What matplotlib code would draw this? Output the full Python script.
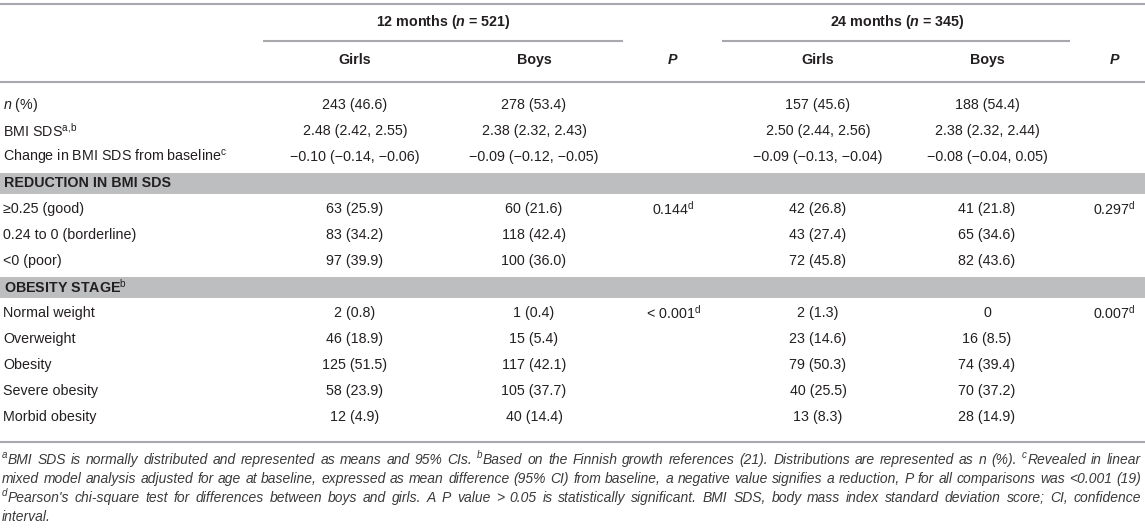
import matplotlib
matplotlib.use("Agg")
import matplotlib.pyplot as plt
from matplotlib.patches import Rectangle

plt.rcParams['font.family'] = ['Liberation Sans', 'DejaVu Sans']
plt.rcParams['mathtext.fontset'] = 'custom'
plt.rcParams['mathtext.rm'] = 'Liberation Sans'
plt.rcParams['mathtext.it'] = 'Liberation Sans:italic'
plt.rcParams['mathtext.bf'] = 'Liberation Sans:bold'
plt.rcParams['mathtext.bfit'] = 'Liberation Sans:italic:bold'

# ---------------- data ----------------
group_headers = [r"12 months ($\mathbfit{n}$ = 521)", r"24 months ($\mathbfit{n}$ = 345)"]
sub_headers = ["Girls", "Boys", "P", "Girls", "Boys", "P"]

labels = [r"$\mathit{n}$ (%)", "BMI SDS", "Change in BMI SDS from baseline",
          "REDUCTION IN BMI SDS", "≥0.25 (good)", "0.24 to 0 (borderline)", "<0 (poor)",
          "OBESITY STAGE", "Normal weight", "Overweight", "Obesity", "Severe obesity",
          "Morbid obesity"]
label_sup = ["", "a{,}b", "c", "", "", "", "", "b", "", "", "", "", ""]
is_section = [False, False, False, True, False, False, False, True,
              False, False, False, False, False]

girls_12 = ["243 (46.6)", "2.48 (2.42, 2.55)", "−0.10 (−0.14, −0.06)", "",
            "63 (25.9)", "83 (34.2)", "97 (39.9)", "",
            "2 (0.8)", "46 (18.9)", "125 (51.5)", "58 (23.9)", "12 (4.9)"]
boys_12 = ["278 (53.4)", "2.38 (2.32, 2.43)", "−0.09 (−0.12, −0.05)", "",
           "60 (21.6)", "118 (42.4)", "100 (36.0)", "",
           "1 (0.4)", "15 (5.4)", "117 (42.1)", "105 (37.7)", "40 (14.4)"]
p_12 = ["", "", "", "", "0.144", "", "", "", "< 0.001", "", "", "", ""]
girls_24 = ["157 (45.6)", "2.50 (2.44, 2.56)", "−0.09 (−0.13, −0.04)", "",
            "42 (26.8)", "43 (27.4)", "72 (45.8)", "",
            "2 (1.3)", "23 (14.6)", "79 (50.3)", "40 (25.5)", "13 (8.3)"]
boys_24 = ["188 (54.4)", "2.38 (2.32, 2.44)", "−0.08 (−0.04, 0.05)", "",
           "41 (21.8)", "65 (34.6)", "82 (43.6)", "",
           "0", "16 (8.5)", "74 (39.4)", "70 (37.2)", "28 (14.9)"]
p_24 = ["", "", "", "", "0.297", "", "", "", "0.007", "", "", "", ""]
p_sup = "d"

# footnote words; a leading "^x|" marks a superscript letter before the word
footnotes = [
    "^a|BMI SDS is normally distributed and represented as means and 95% CIs. ^b|Based on the Finnish growth references (21). Distributions are represented as n (%). ^c|Revealed in linear",
    "mixed model analysis adjusted for age at baseline, expressed as mean difference (95% CI) from baseline, a negative value signifies a reduction, P for all comparisons was <0.001 (19)",
    "^d|Pearson's chi-square test for differences between boys and girls. A P value > 0.05 is statistically significant. BMI SDS, body mass index standard deviation score; CI, confidence",
    "interval.",
]
footnote_justify = [True, True, True, False]

# ---------------- layout ----------------
W, H = 1145, 531
fig = plt.figure(figsize=(W / 100, H / 100), dpi=100)
ax = fig.add_axes([0, 0, 1, 1])
ax.set_xlim(0, W)
ax.set_ylim(H, 0)
ax.axis('off')

txt = '#231f20'
rule = '#a7a9ac'
band = '#bcbec0'
fn_col = '#3a3a3a'
fs = 10.3

col_x = [355, 534, 673, 818, 987, 1114]
group_x = [443, 897]
group_lines = [(263, 623), (722, 1070)]

y_top = 4
y_group = 22
y_gline = 41
y_sub = 60
y_rule2 = 82
y0 = 105
pitch = 26
y_bottom = 442
band_h = 21

for yy in (y_top, y_rule2, y_bottom):
    ax.plot([0, W], [yy, yy], color=rule, lw=1.5, solid_capstyle='butt')
for (a, b) in group_lines:
    ax.plot([a, b], [y_gline, y_gline], color=rule, lw=1.5, solid_capstyle='butt')

for gx, gh in zip(group_x, group_headers):
    ax.text(gx, y_group, gh, ha='center', va='center', fontsize=fs,
            fontweight='bold', color=txt)
for cx, sh in zip(col_x, sub_headers):
    ax.text(cx, y_sub, sh, ha='center', va='center', fontsize=fs,
            fontweight='bold', fontstyle='italic' if sh == "P" else 'normal', color=txt)

cols = [girls_12, boys_12, p_12, girls_24, boys_24, p_24]
for i, lab in enumerate(labels):
    y = y0 + i * pitch
    s = lab + (r"$^{\mathrm{%s}}$" % label_sup[i] if label_sup[i] else "")
    if is_section[i]:
        ax.add_patch(Rectangle((0, y - band_h / 2), W, band_h, color=band, lw=0))
        ax.text(4, y, s, ha='left', va='center', fontsize=fs, fontweight='bold', color=txt)
        continue
    ax.text(3, y, s, ha='left', va='center', fontsize=fs, color=txt)
    for j, col in enumerate(cols):
        v = col[i]
        if not v:
            continue
        if j in (2, 5):
            v = v + r"$^{\mathrm{%s}}$" % p_sup
        ax.text(col_x[j], y, v, ha='center', va='center', fontsize=fs, color=txt)

# footnotes, justified to the full width
fig.canvas.draw()
renderer = fig.canvas.get_renderer()
fy = [460, 479, 498, 517]
fn_fs = 10.0
sup_fs = 7.0
x_left, x_right = 2, 1141


def make_word(w, y):
    """Return list of artist pieces for one word; superscript is a separate small text."""
    pieces = []
    if w.startswith("^") and "|" in w:
        sup, rest = w[1:].split("|", 1)
        pieces.append(ax.text(0, y - 5, sup, ha='left', va='center', fontsize=sup_fs,
                              fontstyle='italic', color=fn_col))
        w = rest
    pieces.append(ax.text(0, y, w, ha='left', va='center', fontsize=fn_fs,
                          fontstyle='italic', color=fn_col))
    return pieces


for y, line, just in zip(fy, footnotes, footnote_justify):
    words = line.split(' ')
    groups = [make_word(w, y) for w in words]
    gw = [[p.get_window_extent(renderer).width for p in g] for g in groups]
    total = sum(sum(ws) + 0.5 * (len(ws) - 1) for ws in gw)
    if just and len(words) > 1:
        gap = (x_right - x_left - total) / (len(words) - 1)
    else:
        gap = 3.6
    x = x_left
    for g, ws in zip(groups, gw):
        for p, w in zip(g, ws):
            p.set_x(x)
            x += w + 0.5
        x += gap - 0.5

fig.savefig("out.png", dpi=100)
